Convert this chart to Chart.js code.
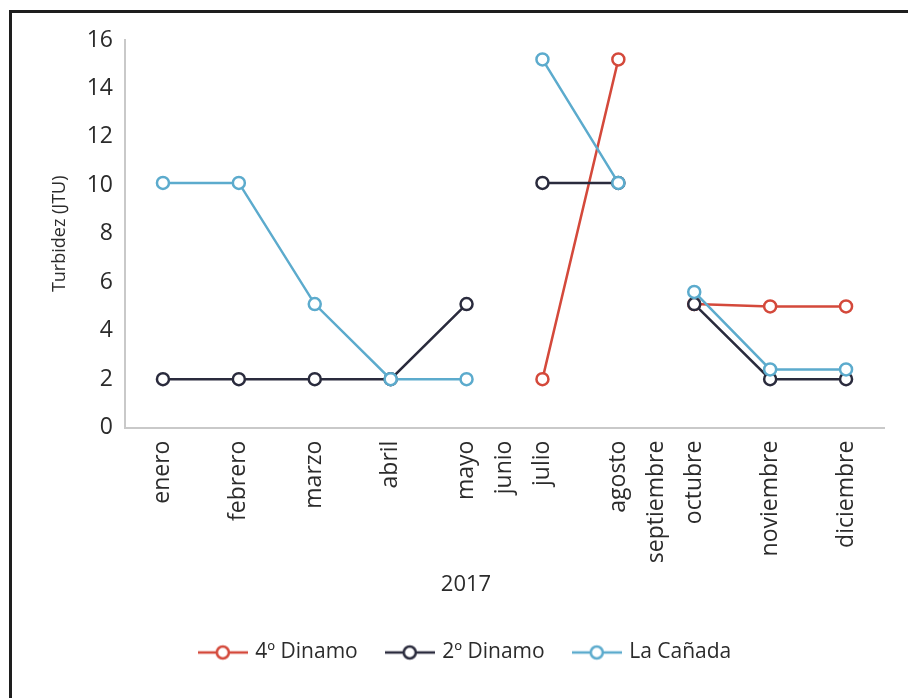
<!DOCTYPE html>
<html>
<head>
<meta charset="utf-8">
<script src="https://cdn.jsdelivr.net/npm/chart.js@4/dist/chart.umd.min.js"></script>
<style>
  html, body { margin: 0; padding: 0; background: #fff; }
  #wrap { position: relative; width: 908px; height: 698px; }
  #frame { position: absolute; left: 9px; top: 10px; right: 0; bottom: 0;
           border-left: 3px solid #1e1e1e; border-top: 3px solid #1e1e1e; }
  #turbidez { position: absolute; left: 0; top: 0; }
</style>
</head>
<body>
<div id="wrap">
  <div id="frame"></div>
  <canvas id="turbidez" width="908" height="698"></canvas>
</div>
<script>
// meses (junio y septiembre sin datos, van apretados entre sus vecinos)
var months = ['enero', 'febrero', 'marzo', 'abril', 'mayo', 'junio', 'julio',
  'agosto', 'septiembre', 'octubre', 'noviembre', 'diciembre'];
var monthPos = [0, 1, 2, 3, 4, 4.5, 5, 6, 6.5, 7, 8, 9];

var dinamo4 = [null, null, null, null, null, null, 2, 15.2, null, 5.1, 5, 5];
var dinamo2 = [2, 2, 2, 2, 5.1, null, 10.1, 10.1, null, 5.1, 2, 2];
var canada = [10.1, 10.1, 5.1, 2, 2, null, 15.2, 10.1, null, 5.6, 2.4, 2.4];

var yTicks = [0, 2, 4, 6, 8, 10, 12, 14, 16];

var RED = '#d4493b';
var NAVY = '#2a2b3d';
var BLUE = '#5cabcd';

function toPoints(values) {
  return values.map(function (v, i) {
    return { x: monthPos[i], y: v };
  });
}

// small line + circle mark for the legend
function legendMark(color) {
  var c = document.createElement('canvas');
  c.width = 50;
  c.height = 18;
  var g = c.getContext('2d');
  g.strokeStyle = color;
  g.lineWidth = 2.5;
  g.beginPath();
  g.moveTo(0, 9);
  g.lineTo(50, 9);
  g.stroke();
  g.beginPath();
  g.arc(25, 9, 6, 0, Math.PI * 2);
  g.fillStyle = '#fff';
  g.fill();
  g.stroke();
  return c;
}

function series(label, values, color, order) {
  return {
    label: label,
    data: toPoints(values),
    borderColor: color,
    backgroundColor: '#fff',
    borderWidth: 2.5,
    pointRadius: 6,
    pointBorderWidth: 2.5,
    pointBackgroundColor: '#fff',
    pointBorderColor: color,
    tension: 0,
    spanGaps: false,
    order: order
  };
}

Chart.defaults.font.family = "'Open Sans', sans-serif";
Chart.defaults.color = '#2b2b2b';

var ctx = document.getElementById('turbidez').getContext('2d');
var marks = [legendMark(RED), legendMark(NAVY), legendMark(BLUE)];

var myChart = new Chart(ctx, {
  type: 'line',
  data: {
    datasets: [
      series('4º Dinamo', dinamo4, RED, 2),
      series('2º Dinamo', dinamo2, NAVY, 1),
      series('La Cañada', canada, BLUE, 0)
    ]
  },
  options: {
    responsive: false,
    animation: false,
    layout: {
      padding: { left: 48, right: 24, top: 40, bottom: 25 }
    },
    plugins: {
      tooltip: { enabled: false },
      title: {
        display: true,
        text: '2017',
        position: 'bottom',
        weight: 500,
        font: { size: 22, weight: 'normal' },
        padding: { top: 0, bottom: 14 }
      },
      legend: {
        position: 'bottom',
        labels: {
          usePointStyle: true,
          pointStyleWidth: 44,
          padding: 30,
          font: { size: 21 },
          sort: function (a, b) { return a.datasetIndex - b.datasetIndex; },
          generateLabels: function (chart) {
            var items = Chart.defaults.plugins.legend.labels.generateLabels(chart);
            items.forEach(function (it) {
              it.pointStyle = marks[it.datasetIndex];
            });
            return items;
          }
        }
      }
    },
    scales: {
      x: {
        type: 'linear',
        min: -0.5,
        max: 9.5,
        grid: { display: false, drawTicks: false },
        border: { display: true, color: '#c9c9c9', width: 2 },
        afterBuildTicks: function (axis) {
          axis.ticks = monthPos.map(function (v) { return { value: v }; });
        },
        afterFit: function (axis) {
          axis.height = 144;
        },
        ticks: {
          autoSkip: false,
          minRotation: 90,
          maxRotation: 90,
          padding: 13,
          font: { size: 23 },
          callback: function (value, index) {
            return months[index];
          }
        }
      },
      y: {
        min: 0,
        max: 16,
        grid: { display: false, drawTicks: false },
        border: { display: true, color: '#c9c9c9', width: 2 },
        afterBuildTicks: function (axis) {
          axis.ticks = yTicks.map(function (v) { return { value: v }; });
        },
        afterFit: function (axis) {
          axis.width = 77;
        },
        ticks: {
          padding: 12,
          font: { size: 23 }
        },
        title: {
          display: true,
          text: 'Turbidez (JTU)',
          font: { size: 18 },
          padding: { top: 1, bottom: 0 }
        }
      }
    }
  }
});
</script>
</body>
</html>
